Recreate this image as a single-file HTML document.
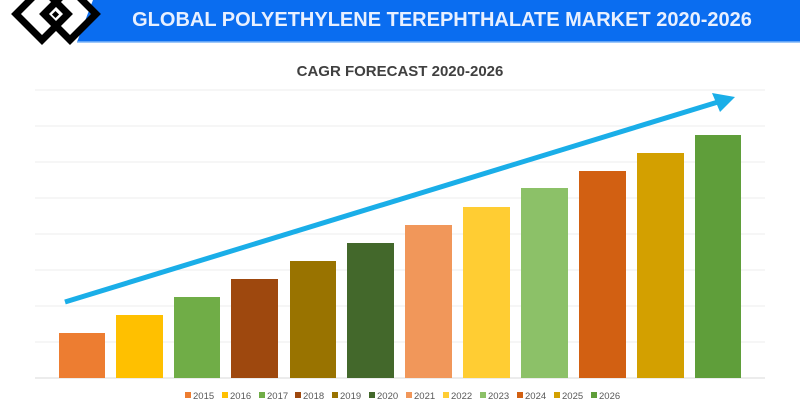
<!DOCTYPE html>
<html><head><meta charset="utf-8"><style>
body{margin:0;width:800px;height:400px;background:#fff;overflow:hidden}
</style></head><body>
<svg width="800" height="400" xmlns="http://www.w3.org/2000/svg" font-family="Liberation Sans, sans-serif">
<polygon points="93,0 800,0 800,42 77,42" fill="#0a6df0"/>
<line x1="77" y1="42" x2="800" y2="42" stroke="#7fb6f7" stroke-width="1.5"/>
<g fill="none" stroke="#000" stroke-width="7" stroke-linejoin="miter">
<polygon points="42,-12 68,14 42,40 16,14"/>
<polygon points="70,-12 96,14 70,40 44,14"/>
</g>
<rect x="53" y="12" width="5" height="5" fill="#000" transform="rotate(45 55.5 14.5)"/>
<text x="442" y="26" font-size="20" font-weight="bold" fill="#e8f0ff" text-anchor="middle">GLOBAL POLYETHYLENE TEREPHTHALATE MARKET 2020-2026</text>
<text x="400" y="76" font-size="15" font-weight="bold" fill="#404040" text-anchor="middle">CAGR FORECAST 2020-2026</text>
<g stroke="#ececec" stroke-width="1">
<line x1="35" x2="765" y1="90" y2="90"/><line x1="35" x2="765" y1="126" y2="126"/><line x1="35" x2="765" y1="162" y2="162"/><line x1="35" x2="765" y1="198" y2="198"/><line x1="35" x2="765" y1="234" y2="234"/><line x1="35" x2="765" y1="270" y2="270"/><line x1="35" x2="765" y1="306" y2="306"/><line x1="35" x2="765" y1="342" y2="342"/><line x1="35" x2="765" y1="378" y2="378" stroke="#d9d9d9"/>
</g>
<g>
<rect x="59" y="333" width="46" height="45" fill="#ed7d31"/>
<rect x="116" y="315" width="47" height="63" fill="#ffc000"/>
<rect x="174" y="297" width="46" height="81" fill="#70ad47"/>
<rect x="231" y="279" width="47" height="99" fill="#9e480e"/>
<rect x="290" y="261" width="46" height="117" fill="#997300"/>
<rect x="347" y="243" width="47" height="135" fill="#43682b"/>
<rect x="405" y="225" width="47" height="153" fill="#f1975a"/>
<rect x="463" y="207" width="47" height="171" fill="#ffcd33"/>
<rect x="521" y="188" width="47" height="190" fill="#8cc168"/>
<rect x="579" y="171" width="47" height="207" fill="#d26012"/>
<rect x="637" y="153" width="47" height="225" fill="#d3a000"/>
<rect x="695" y="135" width="46" height="243" fill="#5f9e3a"/>
</g>
<line x1="65" y1="302" x2="718" y2="102" stroke="#1aaee8" stroke-width="5"/>
<polygon points="735,97 712,93 720,112" fill="#1aaee8"/>
<g font-size="9.5" fill="#595959">
<rect x="185" y="392" width="6" height="6" fill="#ed7d31"/><text x="193" y="399">2015</text>
<rect x="222" y="392" width="6" height="6" fill="#ffc000"/><text x="230" y="399">2016</text>
<rect x="259" y="392" width="6" height="6" fill="#70ad47"/><text x="267" y="399">2017</text>
<rect x="295" y="392" width="6" height="6" fill="#9e480e"/><text x="303" y="399">2018</text>
<rect x="332" y="392" width="6" height="6" fill="#997300"/><text x="340" y="399">2019</text>
<rect x="369" y="392" width="6" height="6" fill="#43682b"/><text x="377" y="399">2020</text>
<rect x="406" y="392" width="6" height="6" fill="#f1975a"/><text x="414" y="399">2021</text>
<rect x="443" y="392" width="6" height="6" fill="#ffcd33"/><text x="451" y="399">2022</text>
<rect x="480" y="392" width="6" height="6" fill="#8cc168"/><text x="488" y="399">2023</text>
<rect x="517" y="392" width="6" height="6" fill="#d26012"/><text x="525" y="399">2024</text>
<rect x="554" y="392" width="6" height="6" fill="#d3a000"/><text x="562" y="399">2025</text>
<rect x="591" y="392" width="6" height="6" fill="#5f9e3a"/><text x="599" y="399">2026</text>
</g>
</svg>
</body></html>
